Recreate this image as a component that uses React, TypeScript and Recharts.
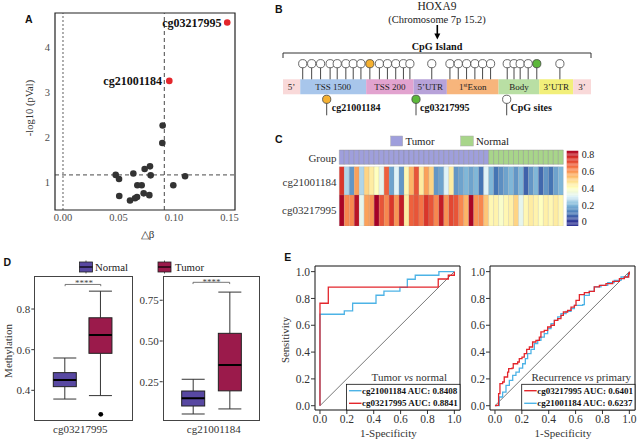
import React from 'react';
import {
  ScatterChart, Scatter, XAxis, YAxis, ReferenceLine, ReferenceArea,
  ComposedChart, Bar, LineChart, Line,
} from 'recharts';

const SERIF = '"Liberation Serif", "Times New Roman", Times, serif';
const SANS = '"Liberation Sans", Arial, Helvetica, sans-serif';

// ---------------- Panel A: volcano ----------------
const volcanoDeltaBeta = [0.0898, 0.0895, 0.0784, 0.0736, 0.079, 0.0634, 0.0475, 0.0505, 0.067, 0.0709, 0.0994, 0.11, 0.0507, 0.0604, 0.0649, 0.0667, 0.0727, 0.0778];
const volcanoLogP = [2.27, 1.88, 1.36, 1.30, 1.16, 1.20, 1.17, 1.08, 0.94, 0.94, 0.94, 1.14, 0.70, 0.60, 0.65, 0.68, 0.76, 0.72];
const hitProbes = ['cg03217995', 'cg21001184'];
const hitDeltaBeta = [0.148, 0.0958];
const hitLogP = [4.56, 3.26];
const deltaBetaCut = 0.0913;
const logPCut = 1.17;
const volcanoXTicks = [0, 0.05, 0.1, 0.15];
const volcanoYTicks = [1, 2, 3, 4];

// ---------------- Panel B: gene structure ----------------
const regionNames = ['5’', 'TSS 1500', 'TSS 200', '5’UTR', '1stExon', 'Body', '3’UTR', '3’'];
const regionLengths = [5.6, 21.4, 15.4, 10.8, 16.8, 13.2, 11.0, 5.8];
const cpgPositions = [6.4, 9.3, 12.2, 15.3, 17.6, 20.4, 22.8, 25.3, 28.2, 31.3, 33.9, 36.6, 39.1, 41.2, 48.3, 54.2, 56.9, 59.6, 62.3, 64.8, 67.4, 72.8, 75.0, 77.0, 79.6, 82.4, 89.9];
const cpgProbe = ['', '', '', '', '', '', '', '', 'cg21001184', '', '', '', '', '', '', '', '', '', '', '', '', '', '', '', '', 'cg03217995', ''];

// ---------------- Panel C: heatmap ----------------
const sampleGroups = [...Array(30).fill('Tumor'), ...Array(15).fill('Normal')];
const heatProbes = ['cg21001184', 'cg03217995'];
const heat21001184 = [0.75, 0.25, 0.15, 0.58, 0.25, 0.50, 0.45, 0.40, 0.32, 0.68, 0.17, 0.30, 0.15, 0.42, 0.55, 0.70, 0.45, 0.58, 0.50, 0.15, 0.17, 0.30, 0.45, 0.15, 0.17, 0.20, 0.17, 0.20, 0.10, 0.30,
  0.20, 0.10, 0.14, 0.17, 0.20, 0.15, 0.20, 0.07, 0.15, 0.20, 0.08, 0.15, 0.10, 0.17, 0.20];
const heat03217995 = [0.85, 0.62, 0.62, 0.82, 0.32, 0.58, 0.60, 0.86, 0.70, 0.62, 0.75, 0.60, 0.80, 0.45, 0.68, 0.70, 0.65, 0.75, 0.70, 0.62, 0.80, 0.60, 0.72, 0.70, 0.62, 0.55, 0.85, 0.60, 0.62, 0.52,
  0.42, 0.43, 0.38, 0.42, 0.44, 0.50, 0.32, 0.42, 0.45, 0.43, 0.40, 0.44, 0.42, 0.45, 0.42];
const colorbarTicks = [0, 0.2, 0.4, 0.6, 0.8];

// ---------------- Panel D: boxplots ----------------
const boxGroups = ['Normal', 'Tumor'];
const b03Min = [0.357, 0.374];
const b03Q1 = [0.418, 0.582];
const b03Med = [0.451, 0.672];
const b03Q3 = [0.487, 0.757];
const b03Max = [0.559, 0.888];
const b03Out = [null, 0.282];
const b21Min = [0.052, 0.083];
const b21Q1 = [0.101, 0.194];
const b21Med = [0.148, 0.353];
const b21Q3 = [0.193, 0.547];
const b21Max = [0.265, 0.80];
const b21Out = [null, null];

// ---------------- Panel E: ROC ----------------
const rocTicks = [0, 0.2, 0.4, 0.6, 0.8, 1];
const tn21X = [0, 0, 0.181, 0.243, 0.417, 0.476, 0.595, 0.65, 0.709, 0.885, 1.0];
const tn21Y = [0, 0.682, 0.707, 0.764, 0.824, 0.854, 0.882, 0.943, 0.973, 1.0, 1.0];
const tn03X = [0, 0, 0.062, 0.88, 0.955, 1.0];
const tn03Y = [0, 0.764, 0.884, 0.945, 0.973, 1.0];
const rp03X = [0, 0.007, 0.027, 0.037, 0.057, 0.069, 0.094, 0.102, 0.127, 0.136, 0.169, 0.181, 0.201, 0.218, 0.236, 0.256, 0.28, 0.305, 0.33, 0.342, 0.367, 0.392, 0.417, 0.442, 0.467, 0.491, 0.509, 0.541, 0.566, 0.591, 0.603, 0.628, 0.665, 0.702, 0.739, 0.777, 0.826, 0.876, 0.926, 0.963, 0.995, 1.0];
const rp03Y = [0, 0.002, 0.09, 0.164, 0.177, 0.214, 0.251, 0.276, 0.281, 0.313, 0.326, 0.351, 0.363, 0.388, 0.42, 0.438, 0.475, 0.488, 0.512, 0.55, 0.562, 0.587, 0.6, 0.637, 0.649, 0.674, 0.699, 0.711, 0.736, 0.749, 0.786, 0.828, 0.843, 0.853, 0.886, 0.898, 0.91, 0.928, 0.948, 0.96, 0.985, 1.0];
const rp21X = [0, 0.032, 0.057, 0.082, 0.107, 0.132, 0.156, 0.181, 0.206, 0.226, 0.243, 0.268, 0.293, 0.318, 0.342, 0.367, 0.392, 0.417, 0.442, 0.467, 0.491, 0.529, 0.566, 0.591, 0.653, 0.665, 0.702, 0.739, 0.789, 0.839, 0.888, 0.938, 0.988, 1.0];
const rp21Y = [0, 0.065, 0.102, 0.152, 0.189, 0.226, 0.251, 0.281, 0.313, 0.351, 0.388, 0.42, 0.463, 0.488, 0.512, 0.537, 0.575, 0.612, 0.637, 0.662, 0.687, 0.704, 0.724, 0.749, 0.754, 0.823, 0.853, 0.886, 0.898, 0.918, 0.935, 0.96, 0.978, 1.0];
const tnLegend = ['cg21001184 AUC: 0.8408', 'cg03217995 AUC: 0.8841'];
const rpLegend = ['cg03217995 AUC: 0.6401', 'cg21001184 AUC: 0.6237'];

// ---------------- styling helpers ----------------
const RED = '#e3262c';
const BLUE = '#4db3e6';
const regionColors = ['#f9d9d9', '#a8c6eb', '#e2a3cf', '#b7a2d9', '#f7b57c', '#b9dfa4', '#f2ef7a', '#f9d9d9'];
const probeColor: Record<string, string> = { cg21001184: '#f5b131', cg03217995: '#5cb83a' };
const groupColor: Record<string, string> = { Tumor: '#9f9fdc', Normal: '#a8d58a' };
const boxColors = ['#5848a2', '#9b1a4b'];

const heatStops: [number, string][] = [
  [0, '#313695'], [0.1, '#4575b4'], [0.2, '#80b7d8'], [0.3, '#e0f3f8'], [0.4, '#ffffbf'],
  [0.48, '#fee090'], [0.56, '#fdae61'], [0.66, '#f46d43'], [0.76, '#d73027'], [0.86, '#a50026'],
];
const hex = (c: string) => [1, 3, 5].map((i) => parseInt(c.slice(i, i + 2), 16));
function heatColor(v: number) {
  if (v <= heatStops[0][0]) return heatStops[0][1];
  for (let i = 1; i < heatStops.length; i++) {
    if (v <= heatStops[i][0]) {
      const [a, ca] = heatStops[i - 1];
      const [b, cb] = heatStops[i];
      const t = (v - a) / (b - a);
      const A = hex(ca), B = hex(cb);
      return `rgb(${A.map((x, k) => Math.round(x + (B[k] - x) * t)).join(',')})`;
    }
  }
  return heatStops[heatStops.length - 1][1];
}

const tickStyle = (size: number, fill = '#333') => ({ fontFamily: SERIF, fontSize: size, fill });

// ---------------- Panel A chart ----------------
const volcanoPts = volcanoDeltaBeta.map((x, i) => ({ x, y: volcanoLogP[i] }));
const hitPts = hitDeltaBeta.map((x, i) => ({ x, y: hitLogP[i], name: hitProbes[i] }));
const AX = [-0.0072, 0.155];
const AY = [0.39, 4.77];

const Dot = (r: number, fill: string) => (p: any) => <circle cx={p.cx} cy={p.cy} r={r} fill={fill} />;

function PanelA() {
  return (
    <ScatterChart width={240} height={240} margin={{ top: 13, right: 5, bottom: 0, left: 0 }} style={{ fontFamily: SERIF }}>
      <XAxis type="number" dataKey="x" domain={AX} allowDataOverflow ticks={volcanoXTicks} tickFormatter={(v) => v.toFixed(2)} interval={0}
        height={30} axisLine={false} tickLine={false} tickSize={3} tickMargin={1} tick={tickStyle(10.5, '#4d4d4d')} />
      <YAxis type="number" dataKey="y" domain={AY} allowDataOverflow ticks={volcanoYTicks} interval={0}
        width={55} axisLine={false} tickLine={false} tickSize={4} tickMargin={1} tick={tickStyle(10.5, '#4d4d4d')} />
      <ReferenceLine x={0} stroke="#333" strokeDasharray="2 2" strokeWidth={0.8} />
      <ReferenceLine x={deltaBetaCut} stroke="#333" strokeDasharray="4 3" strokeWidth={0.9} />
      <ReferenceLine y={logPCut} stroke="#333" strokeDasharray="4 3" strokeWidth={0.9} />
      <Scatter data={volcanoPts} isAnimationActive={false} shape={Dot(3.3, '#333')} />
      <Scatter data={hitPts} isAnimationActive={false} shape={Dot(3.3, RED)} />
      <ReferenceArea x1={AX[0]} x2={AX[1]} y1={AY[0]} y2={AY[1]} fill="none" stroke="#222" strokeWidth={1.2} ifOverflow="visible" />
    </ScatterChart>
  );
}

// ---------------- Panel B chart ----------------
const LV = { bracket: 72, bracketEnd: 67, head: 61.3, geneTop: 45.7, geneBottom: 30.7 };
const regionStarts = regionLengths.map((_, i) => regionLengths.slice(0, i).reduce((a, b) => a + b, 0));
const cpgData = cpgPositions.map((x, i) => ({ x, y: LV.head, probe: cpgProbe[i] }));

const RegionLabel = (props: any) => {
  const { viewBox, text } = props;
  const cx = viewBox.x + viewBox.width / 2;
  const cy = viewBox.y + viewBox.height / 2 + 3.2;
  if (text === '1stExon') {
    return (
      <text x={cx} y={cy} textAnchor="middle" fontFamily={SERIF} fontSize={9} fill="#222">
        1<tspan fontSize={6} dy={-3}>st</tspan><tspan dy={3}>Exon</tspan>
      </text>
    );
  }
  return <text x={cx} y={cy} textAnchor="middle" fontFamily={SERIF} fontSize={9} fill="#222">{text}</text>;
};

const Lollipop = (p: any) => (
  <circle cx={p.cx} cy={p.cy} r={4.1} fill={p.payload.probe ? probeColor[p.payload.probe] : '#fff'} stroke="#444" strokeWidth={0.8} />
);

function PanelB() {
  return (
    <ScatterChart width={330} height={80} margin={{ top: 0, right: 9, bottom: 0, left: 13 }}>
      <XAxis type="number" dataKey="x" domain={[0, 100]} allowDataOverflow hide />
      <YAxis type="number" dataKey="y" domain={[0, 80]} allowDataOverflow hide />
      <ReferenceLine segment={[{ x: 0, y: LV.bracket }, { x: 100, y: LV.bracket }]} stroke="#333" strokeWidth={1} />
      <ReferenceLine segment={[{ x: 0, y: LV.bracket }, { x: 0, y: LV.bracketEnd }]} stroke="#333" strokeWidth={1} />
      <ReferenceLine segment={[{ x: 100, y: LV.bracket }, { x: 100, y: LV.bracketEnd }]} stroke="#333" strokeWidth={1} />
      {regionNames.map((n, i) => (
        <ReferenceArea key={n + i} x1={regionStarts[i]} x2={regionStarts[i] + regionLengths[i]} y1={LV.geneBottom} y2={LV.geneTop}
          fill={regionColors[i]} fillOpacity={1} stroke="none" ifOverflow="visible" label={<RegionLabel text={n} />} />
      ))}
      {cpgPositions.map((x, i) => (
        <ReferenceLine key={'s' + i} segment={[{ x, y: LV.geneTop }, { x, y: LV.head }]} stroke="#333" strokeWidth={0.9} />
      ))}
      <Scatter data={cpgData} isAnimationActive={false} shape={Lollipop} />
    </ScatterChart>
  );
}

// ---------------- Panel C chart ----------------
const HR = { r2: [0, 31], r1: [31, 59.3], grp: [61.7, 76] };
const heatRows = [heat21001184, heat03217995];
const heatBands = [HR.r1, HR.r2];

function PanelC() {
  return (
    <ScatterChart width={234} height={81} margin={{ top: 5, right: 0.7, bottom: 0, left: 9.3 }}>
      <XAxis type="number" dataKey="x" domain={[0, sampleGroups.length]} allowDataOverflow hide />
      <YAxis type="number" dataKey="y" domain={[0, 76]} allowDataOverflow hide />
      {sampleGroups.map((g, i) => (
        <ReferenceArea key={'g' + i} x1={i} x2={i + 1} y1={HR.grp[0]} y2={HR.grp[1]} fill={groupColor[g]} fillOpacity={1}
          stroke="#8a8a8a" strokeWidth={0.4} ifOverflow="visible" />
      ))}
      {heatRows.map((row, r) => row.map((v, i) => (
        <ReferenceArea key={'h' + r + '-' + i} x1={i} x2={i + 1} y1={heatBands[r][0]} y2={heatBands[r][1]} fill={heatColor(v)} fillOpacity={1}
          stroke="#9a9a9a" strokeOpacity={0.45} strokeWidth={0.4} ifOverflow="visible" />
      )))}
      <Scatter data={[]} isAnimationActive={false} />
    </ScatterChart>
  );
}

const CB = [-0.05, 0.845];
const cbSlices = Array.from({ length: 60 }, (_, i) => CB[0] + ((CB[1] - CB[0]) * i) / 60);
function ColorBar() {
  const step = (CB[1] - CB[0]) / 60;
  return (
    <ScatterChart width={40} height={81} margin={{ top: 5.7, right: 0, bottom: 0, left: 6.7 }} style={{ fontFamily: SERIF }}>
      <XAxis type="number" dataKey="x" domain={[0, 1]} allowDataOverflow hide />
      <YAxis type="number" dataKey="y" orientation="right" domain={CB} allowDataOverflow ticks={colorbarTicks} interval={0}
        tickFormatter={(v) => (v === 0 ? '0' : String(v))} width={21.7} axisLine={false} tickLine={false} tickSize={2} tickMargin={1.4}
        tick={tickStyle(10, '#222')} />
      {cbSlices.map((s, i) => (
        <ReferenceArea key={i} x1={0} x2={1} y1={s} y2={s + step * 1.05} fill={heatColor(s + step / 2)} fillOpacity={1} stroke="none" ifOverflow="visible" />
      ))}
      <Scatter data={[]} isAnimationActive={false} />
    </ScatterChart>
  );
}

// ---------------- Panel D charts ----------------
const BoxShape = (props: any) => {
  const { x, y, width, height, payload, index } = props;
  const { q1, q3, median, min, max } = payload;
  const h = Math.abs(height);
  const top = height >= 0 ? y : y + height;
  const ppu = h / (q3 - q1);
  const yOf = (v: number) => top + (q3 - v) * ppu;
  const cx = x + width / 2;
  const st = { stroke: '#333', strokeWidth: 1 };
  return (
    <g>
      <line x1={cx} x2={cx} y1={yOf(max)} y2={top} {...st} />
      <line x1={cx} x2={cx} y1={top + h} y2={yOf(min)} {...st} />
      <line x1={x} x2={x + width} y1={yOf(max)} y2={yOf(max)} {...st} />
      <line x1={x} x2={x + width} y1={yOf(min)} y2={yOf(min)} {...st} />
      <rect x={x} y={top} width={width} height={h} fill={boxColors[index]} stroke="#222" strokeWidth={1} />
      <line x1={x} x2={x + width} y1={yOf(median)} y2={yOf(median)} stroke="#000" strokeWidth={2} />
    </g>
  );
};
const OutlierShape = (p: any) => (p.payload.outlier == null ? <g /> : <circle cx={p.cx} cy={p.cy} r={2.4} fill="#000" />);

function buildBox(mn: number[], q1: number[], md: number[], q3: number[], mx: number[], out: (number | null)[]) {
  return boxGroups.map((g, i) => ({ group: g, range: [q1[i], q3[i]], min: mn[i], q1: q1[i], median: md[i], q3: q3[i], max: mx[i], outlier: out[i] }));
}
const box03 = buildBox(b03Min, b03Q1, b03Med, b03Q3, b03Max, b03Out);
const box21 = buildBox(b21Min, b21Q1, b21Med, b21Q3, b21Max, b21Out);

function BoxPanel({ data, domain, ticks, yw, pad, sig, fmt }: any) {
  return (
    <ComposedChart width={yw + 98} height={170} data={data} margin={{ top: 5.7, right: 0.7, bottom: 0, left: 0 }} style={{ fontFamily: SERIF }}>
      <XAxis dataKey="group" type="category" tick={false} axisLine={false} tickLine={false} height={19} padding={{ left: pad, right: pad }} />
      <YAxis type="number" domain={domain} allowDataOverflow ticks={ticks} tickFormatter={fmt} width={yw} interval={0}
        axisLine={false} tickLine={{ stroke: '#333' }} tickSize={3} tickMargin={1} tick={tickStyle(11, '#333')} />
      <Bar dataKey="range" barSize={23} isAnimationActive={false} shape={BoxShape} />
      <Scatter dataKey="outlier" isAnimationActive={false} shape={OutlierShape} />
      <ReferenceLine segment={[{ x: 'Normal', y: sig }, { x: 'Tumor', y: sig }]} stroke="#555" strokeWidth={0.8} />
      <ReferenceLine segment={[{ x: 'Normal', y: sig }, { x: 'Normal', y: sig - (domain[1] - domain[0]) * 0.012 }]} stroke="#555" strokeWidth={0.8} />
      <ReferenceLine segment={[{ x: 'Tumor', y: sig }, { x: 'Tumor', y: sig - (domain[1] - domain[0]) * 0.012 }]} stroke="#555" strokeWidth={0.8} />
    </ComposedChart>
  );
}

// ---------------- Panel E charts ----------------
const toPts = (xs: number[], ys: number[]) => xs.map((x, i) => ({ x, y: ys[i] }));
const RX = [-0.037, 1.042];
const RY = [-0.032, 1.042];
function RocPanel({ first, second }: any) {
  return (
    <LineChart width={182} height={180} margin={{ top: 6, right: 2, bottom: 0, left: 0 }} style={{ fontFamily: SERIF }}>
      <XAxis type="number" dataKey="x" domain={RX} allowDataOverflow ticks={rocTicks} tickFormatter={(v) => v.toFixed(1)} interval={0}
        height={30} axisLine={false} tickLine={{ stroke: '#333' }} tickSize={4} tickMargin={1} tick={tickStyle(11.5, '#333')} />
      <YAxis type="number" dataKey="y" domain={RY} allowDataOverflow ticks={rocTicks} tickFormatter={(v) => v.toFixed(1)} interval={0}
        width={35} axisLine={false} tickLine={{ stroke: '#333' }} tickSize={4} tickMargin={1} tick={tickStyle(11.5, '#333')} />
      <ReferenceLine segment={[{ x: 0, y: 0 }, { x: 1, y: 1 }]} stroke="#555" strokeWidth={0.8} />
      <Line data={first.data} dataKey="y" type="stepAfter" stroke={first.color} strokeWidth={1.3} dot={false} isAnimationActive={false} />
      <Line data={second.data} dataKey="y" type="stepAfter" stroke={second.color} strokeWidth={1.3} dot={false} isAnimationActive={false} />
      <ReferenceArea x1={RX[0]} x2={RX[1]} y1={RY[0]} y2={RY[1]} fill="none" stroke="#111" strokeWidth={1} ifOverflow="visible" />
    </LineChart>
  );
}

// ---------------- Overlay text ----------------
const T = (p: any) => <text fontFamily={SERIF} fill="#222" {...p} />;
const Letter = ({ x, y, c }: any) => <text x={x} y={y} fontFamily={SANS} fontWeight="bold" fontSize={10.5} fill="#111">{c}</text>;

function Pin({ x, y, fill }: any) {
  return (
    <g>
      <line x1={x} x2={x} y1={y} y2={y + 16} stroke="#333" strokeWidth={0.9} />
      <circle cx={x} cy={y} r={4.1} fill={fill} stroke="#444" strokeWidth={0.8} />
    </g>
  );
}

function MiniBox({ x, y, fill }: any) {
  return (
    <g>
      <line x1={x + 6.5} x2={x + 6.5} y1={y - 1.5} y2={y + 11.5} stroke="#333" strokeWidth={0.8} />
      <rect x={x} y={y} width={13} height={10} fill={fill} stroke="#222" strokeWidth={0.8} />
      <line x1={x} x2={x + 13} y1={y + 5} y2={y + 5} stroke="#000" strokeWidth={1.2} />
    </g>
  );
}

function RocLegend({ x, y, w, items, colors }: any) {
  return (
    <g>
      <rect x={x} y={y} width={w} height={25.7} fill="#fff" stroke="#111" strokeWidth={0.8} />
      {items.map((t: string, i: number) => (
        <g key={t}>
          <line x1={x + 2.5} x2={x + 15} y1={y + 6.4 + i * 12.6} y2={y + 6.4 + i * 12.6} stroke={colors[i]} strokeWidth={1.4} />
          <text x={x + 15.5} y={y + 9.5 + i * 12.6} fontFamily={SERIF} fontWeight="bold" fontSize={9} fill="#111">{t}</text>
        </g>
      ))}
    </g>
  );
}

function Overlay() {
  return (
    <svg width={637} height={440} style={{ position: 'absolute', left: 0, top: 0, pointerEvents: 'none' }}>
      <Letter x={25} y={22.7} c="A" />
      <Letter x={275} y={12.7} c="B" />
      <Letter x={275} y={142.7} c="C" />
      <Letter x={3.5} y={266} c="D" />
      <Letter x={284.3} y={260.7} c="E" />

      {/* A */}
      <T x={29} y={108} fontSize={10.5} textAnchor="middle" dominantBaseline="central" transform="rotate(-90 29 108)" fill="#333">-log10 (pVal)</T>
      <T x={147.5} y={237.5} fontSize={11} textAnchor="middle" fill="#333">△β</T>
      <T x={221.5} y={27} fontSize={12} fontWeight="bold" textAnchor="end" fill="#111">{hitProbes[0]}</T>
      <T x={162} y={85.3} fontSize={12} fontWeight="bold" textAnchor="end" fill="#111">{hitProbes[1]}</T>

      {/* B */}
      <T x={437} y={10.2} fontSize={11.5} textAnchor="middle">HOXA9</T>
      <T x={437} y={22.5} fontSize={10.5} textAnchor="middle">(Chromosome 7p 15.2)</T>
      <line x1={437.3} x2={437.3} y1={25} y2={34} stroke="#000" strokeWidth={1.6} />
      <polygon points="434.3,33.5 440.3,33.5 437.3,39.5" fill="#000" />
      <T x={437} y={50.3} fontSize={10.2} fontWeight="bold" textAnchor="middle" fill="#111">CpG Island</T>
      <Pin x={326.7} y={99.3} fill={probeColor.cg21001184} />
      <T x={331.7} y={111} fontSize={10} fontWeight="bold" fill="#111">cg21001184</T>
      <Pin x={416} y={99.3} fill={probeColor.cg03217995} />
      <T x={420} y={111} fontSize={10} fontWeight="bold" fill="#111">cg03217995</T>
      <Pin x={506.7} y={99.3} fill="#fff" />
      <T x={510.5} y={111} fontSize={10} fontWeight="bold" fill="#111">CpG sites</T>

      {/* C */}
      <rect x={390.7} y={136} width={12} height={10} fill={groupColor.Tumor} stroke="#aaa" strokeWidth={0.5} />
      <T x={405.5} y={144.8} fontSize={10.8}>Tumor</T>
      <rect x={460.7} y={136} width={12.6} height={10} fill={groupColor.Normal} stroke="#aaa" strokeWidth={0.5} />
      <T x={476} y={144.8} fontSize={10.8}>Normal</T>
      <T x={336.5} y={161.7} fontSize={11} textAnchor="end" fill="#333">Group</T>
      <T x={336.5} y={185.5} fontSize={11} textAnchor="end" fill="#333">{heatProbes[0]}</T>
      <T x={336.5} y={213.5} fontSize={11} textAnchor="end" fill="#333">{heatProbes[1]}</T>

      {/* D */}
      <MiniBox x={79.5} y={262} fill={boxColors[0]} />
      <T x={95} y={270.5} fontSize={10.8}>Normal</T>
      <MiniBox x={158} y={262} fill={boxColors[1]} />
      <T x={175} y={270.5} fontSize={10.8}>Tumor</T>
      <T x={8} y={351} fontSize={11} textAnchor="middle" dominantBaseline="central" transform="rotate(-90 8 351)" fill="#333">Methylation</T>
      <T x={84} y={285.5} fontSize={9} textAnchor="middle" fill="#444">****</T>
      <T x={211.5} y={284.5} fontSize={9} textAnchor="middle" fill="#444">****</T>
      <T x={80.3} y={433} fontSize={11} textAnchor="middle" fill="#333">cg03217995</T>
      <T x={213.8} y={433} fontSize={11} textAnchor="middle" fill="#333">cg21001184</T>

      {/* E */}
      <T x={285} y={340} fontSize={10.8} textAnchor="middle" dominantBaseline="central" transform="rotate(-90 285 340)" fill="#333">Sensitivity</T>
      <T x={388.3} y={437} fontSize={11} textAnchor="middle" fill="#333">1-Specificity</T>
      <T x={563} y={437} fontSize={11} textAnchor="middle" fill="#333">1-Specificity</T>
      <T x={409.3} y={380.5} fontSize={11} textAnchor="middle" fill="#333">Tumor <tspan fontStyle="italic">vs</tspan> normal</T>
      <T x={581.3} y={380.5} fontSize={11} textAnchor="middle" fill="#333">Recurrence <tspan fontStyle="italic">vs</tspan> primary</T>
      <RocLegend x={346.5} y={384.3} w={113.5} items={tnLegend} colors={[BLUE, RED]} />
      <RocLegend x={521.7} y={384.3} w={113.3} items={rpLegend} colors={[RED, BLUE]} />
    </svg>
  );
}

export default function App() {
  return (
    <div style={{ position: 'absolute', left: 0, top: 0, width: 637, height: 440, background: '#fff', overflow: 'hidden', fontFamily: SERIF }}>
      <div style={{ position: 'absolute', left: 0, top: 0 }}><PanelA /></div>
      <div style={{ position: 'absolute', left: 270, top: 45 }}><PanelB /></div>
      <div style={{ position: 'absolute', left: 330, top: 145 }}><PanelC /></div>
      <div style={{ position: 'absolute', left: 560, top: 145 }}><ColorBar /></div>
      <div style={{ position: 'absolute', left: 0, top: 270 }}>
        <BoxPanel data={box03} domain={[0.249, 0.964]} ticks={[0.4, 0.6, 0.8]} yw={34.3} pad={13} sig={0.921} fmt={(v: number) => v.toFixed(1)} />
      </div>
      <div style={{ position: 'absolute', left: 130, top: 270 }}>
        <BoxPanel data={box21} domain={[0.009, 0.9006]} ticks={[0.25, 0.5, 0.75]} yw={32.7} pad={12} sig={0.86} fmt={(v: number) => v.toFixed(2)} />
      </div>
      <div style={{ position: 'absolute', left: 34.3, top: 275.7, width: 99, height: 145.3, border: '1px solid #444', boxSizing: 'border-box', pointerEvents: 'none' }} />
      <div style={{ position: 'absolute', left: 162.7, top: 275.7, width: 97.3, height: 145.3, border: '1px solid #444', boxSizing: 'border-box', pointerEvents: 'none' }} />
      <div style={{ position: 'absolute', left: 280, top: 260 }}>
        <RocPanel first={{ data: toPts(tn21X, tn21Y), color: BLUE }} second={{ data: toPts(tn03X, tn03Y), color: RED }} />
      </div>
      <div style={{ position: 'absolute', left: 455, top: 260 }}>
        <RocPanel first={{ data: toPts(rp21X, rp21Y), color: BLUE }} second={{ data: toPts(rp03X, rp03Y), color: RED }} />
      </div>
      <Overlay />
    </div>
  );
}
